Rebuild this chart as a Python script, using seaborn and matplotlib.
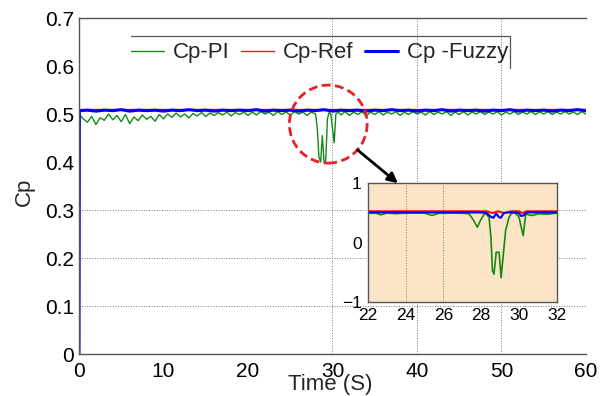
import matplotlib
matplotlib.use("Agg")
import matplotlib.pyplot as plt
from matplotlib.patches import Ellipse
import seaborn as sns

# main plot data
pi_t = [0.0, 0.5, 1.0, 1.5, 2.0, 2.5, 3.0, 3.5, 4.0, 4.5, 5.0, 5.5, 6.0, 6.5, 7.0, 7.5,
        8.0, 8.5, 9.0, 9.5, 10.0, 10.5, 11.0, 11.5, 12.0, 12.5, 13.0, 13.5, 14.0, 14.5,
        15.0, 15.5, 16.0, 16.5, 17.0, 17.5, 18.0, 18.5, 19.0, 19.5, 20.0, 20.5, 21.0,
        21.5, 22.0, 22.5, 23.0, 23.5, 24.0, 24.5, 25.0, 25.5, 26.0, 26.5, 27.0, 27.5,
        28.0, 28.2, 28.4, 28.6, 28.8, 29.0, 29.2, 29.4, 29.6, 29.8, 30.0, 30.2, 30.4,
        30.7, 31.0, 31.5, 32.0, 32.5, 33.0, 33.5, 34.0, 34.5, 35.0, 35.5, 36.0, 36.5,
        37.0, 37.5, 38.0, 38.5, 39.0, 39.5, 40.0, 40.5, 41.0, 41.5, 42.0, 42.5, 43.0,
        43.5, 44.0, 44.5, 45.0, 45.5, 46.0, 46.5, 47.0, 47.5, 48.0, 48.5, 49.0, 49.5,
        50.0, 50.5, 51.0, 51.5, 52.0, 52.5, 53.0, 53.5, 54.0, 54.5, 55.0, 55.5, 56.0,
        56.5, 57.0, 57.5, 58.0, 58.5, 59.0, 59.5, 60.0]
pi_cp = [0.500, 0.490, 0.483, 0.495, 0.478, 0.492, 0.487, 0.500, 0.488, 0.497, 0.484,
         0.499, 0.480, 0.494, 0.486, 0.498, 0.489, 0.495, 0.485, 0.499, 0.490, 0.500,
         0.493, 0.502, 0.494, 0.500, 0.492, 0.501, 0.496, 0.503, 0.495, 0.502, 0.497,
         0.503, 0.498, 0.504, 0.496, 0.503, 0.499, 0.504, 0.497, 0.504, 0.498, 0.505,
         0.500, 0.504, 0.497, 0.505, 0.499, 0.504, 0.498, 0.505, 0.500, 0.504, 0.497,
         0.504, 0.500, 0.470, 0.410, 0.400, 0.455, 0.400, 0.402, 0.490, 0.503, 0.500,
         0.470, 0.440, 0.500, 0.504, 0.498, 0.505, 0.497, 0.504, 0.499, 0.505, 0.496,
         0.504, 0.499, 0.505, 0.498, 0.504, 0.500, 0.505, 0.497, 0.504, 0.499, 0.505,
         0.500, 0.504, 0.498, 0.505, 0.499, 0.504, 0.500, 0.505, 0.497, 0.504, 0.499,
         0.505, 0.498, 0.504, 0.500, 0.505, 0.499, 0.504, 0.500, 0.505, 0.498, 0.504,
         0.500, 0.505, 0.499, 0.504, 0.500, 0.505, 0.499, 0.504, 0.500, 0.505, 0.499,
         0.504, 0.500, 0.505, 0.500, 0.504, 0.499, 0.505, 0.500]

ref_t = [0.0, 60.0]
ref_cp = [0.510, 0.510]

fz_t = [0.0, 0.05, 1, 2, 3, 4, 5, 6, 7, 8, 9, 10, 11, 12, 13, 14, 15, 16, 17, 18, 19,
        20, 21, 22, 23, 24, 25, 26, 27, 28, 29, 30, 31, 32, 33, 34, 35, 36, 37, 38, 39,
        40, 41, 42, 43, 44, 45, 46, 47, 48, 49, 50, 51, 52, 53, 54, 55, 56, 57, 58, 59, 60]
fz_cp = [0.0, 0.507, 0.508, 0.506, 0.508, 0.507, 0.509, 0.506, 0.508, 0.507, 0.508,
         0.506, 0.508, 0.507, 0.509, 0.507, 0.508, 0.506, 0.508, 0.507, 0.508, 0.507,
         0.509, 0.506, 0.508, 0.507, 0.508, 0.506, 0.508, 0.507, 0.509, 0.506, 0.508,
         0.507, 0.508, 0.506, 0.508, 0.507, 0.509, 0.507, 0.508, 0.506, 0.508, 0.507,
         0.509, 0.506, 0.508, 0.507, 0.508, 0.506, 0.508, 0.507, 0.509, 0.506, 0.508,
         0.507, 0.508, 0.506, 0.508, 0.507, 0.509, 0.507]

# zoomed inset data
ins_pi_t = [22.0, 22.4, 22.7, 23.0, 23.5, 24.0, 24.5, 25.0, 25.4, 25.8, 26.3, 26.8,
            27.35, 27.6, 27.8, 27.97, 28.2, 28.42, 28.52, 28.6, 28.68, 28.8, 28.95,
            29.06, 29.16, 29.3, 29.48, 29.62, 29.8, 30.0, 30.16, 30.23, 30.3, 30.37,
            30.5, 30.7, 31.1, 31.5, 32.0]
ins_pi = [0.50, 0.50, 0.47, 0.50, 0.49, 0.50, 0.50, 0.50, 0.46, 0.50, 0.50, 0.50,
          0.49, 0.38, 0.26, 0.38, 0.50, 0.43, 0.09, -0.47, -0.53, -0.16, -0.16,
          -0.59, -0.25, 0.21, 0.43, 0.50, 0.50, 0.44, 0.21, 0.12, 0.32, 0.49,
          0.47, 0.46, 0.49, 0.48, 0.50]
ins_ref_t = [22.0, 28.3, 28.6, 28.9, 29.2, 29.6, 30.0, 30.2, 30.4, 32.0]
ins_ref = [0.53, 0.53, 0.50, 0.53, 0.50, 0.53, 0.53, 0.50, 0.53, 0.53]
ins_fz_t = [22, 23, 24, 25, 26, 27, 27.5, 28.0, 28.3, 28.5, 28.65, 28.8, 28.95, 29.05,
            29.2, 29.4, 29.8, 30.0, 30.12, 30.25, 30.4, 31, 32]
ins_fz = [0.51, 0.51, 0.51, 0.51, 0.51, 0.51, 0.51, 0.51, 0.50, 0.44, 0.42, 0.49, 0.43,
          0.42, 0.50, 0.51, 0.51, 0.50, 0.45, 0.46, 0.51, 0.51, 0.51]

x_ticks = [0, 10, 20, 30, 40, 50, 60]
y_ticks = [0, 0.1, 0.2, 0.3, 0.4, 0.5, 0.6, 0.7]
y_labels = ["0", "0.1", "0.2", "0.3", "0.4", "0.5", "0.6", "0.7"]
ins_x_ticks = [22, 24, 26, 28, 30, 32]
ins_y_ticks = [-1, 0, 1]

VERDE = "#138a13"
AZUL = "#0000ff"
VERMELHO = "#ff1010"

sns.set_theme(style="white")
plt.rcParams["font.family"] = ["Liberation Sans", "DejaVu Sans"]

fig = plt.figure(figsize=(6.09, 3.96), dpi=100)
ax = fig.add_axes([0.1297, 0.106, 0.8325, 0.8485])

sns.lineplot(x=pi_t, y=pi_cp, ax=ax, color=VERDE, lw=1.0, sort=False, label="Cp-PI")
sns.lineplot(x=ref_t, y=ref_cp, ax=ax, color=VERMELHO, lw=1.0, sort=False, label="Cp-Ref")
sns.lineplot(x=fz_t, y=fz_cp, ax=ax, color=AZUL, lw=2.2, sort=False, label="Cp -Fuzzy")

ax.set_xlim(0, 60)
ax.set_ylim(0, 0.7)
ax.set_xticks(x_ticks)
ax.set_yticks(y_ticks)
ax.set_yticklabels(y_labels)
ax.tick_params(axis="both", length=0, labelsize=15, colors="black")
ax.tick_params(axis="x", pad=5.5)
ax.tick_params(axis="y", pad=3.5)

# grid only where it shows in the original
for gx in [30, 40, 50]:
    ax.axvline(gx, color="#777777", lw=0.7, ls=":", zorder=0)
for gy in [0.1, 0.2, 0.3]:
    ax.axhline(gy, color="#777777", lw=0.7, ls=":", zorder=0)

for lado in ["left", "bottom", "top"]:
    ax.spines[lado].set_color("#555555")
    ax.spines[lado].set_linewidth(1.0)
ax.spines["right"].set_visible(False)

ax.set_xlabel("Time (S)", fontsize=16)
ax.xaxis.set_label_coords(0.495, -0.06)
ax.set_ylabel("Cp", fontsize=16)
ax.yaxis.set_label_coords(-0.087, 0.482)

leg = ax.legend(loc="center", bbox_to_anchor=(0.474, 0.896), ncol=3, frameon=False,
                fontsize=16, handlelength=1.5, handletextpad=0.4, columnspacing=0.5)
ax.plot([0.1026, 0.85, 0.85], [0.946, 0.946, 0.851], transform=ax.transAxes,
        color="#555555", lw=0.9, clip_on=False)

circulo = Ellipse((29.5, 0.479), 9.2, 0.1625, fill=False, edgecolor="#e8202a",
                  lw=2.0, ls=(0, (3.2, 1.6)), zorder=5)
ax.add_patch(circulo)
ax.annotate("", xy=(38.0, 0.352), xytext=(32.7, 0.429),
            arrowprops=dict(arrowstyle="-|>", color="black", lw=2.0, mutation_scale=15),
            annotation_clip=False, zorder=6)

# inset
axi = fig.add_axes([0.604, 0.237, 0.310, 0.30])
axi.set_facecolor("#fce5c7")
sns.lineplot(x=ins_pi_t, y=ins_pi, ax=axi, color=VERDE, lw=1.2, sort=False)
sns.lineplot(x=ins_ref_t, y=ins_ref, ax=axi, color=VERMELHO, lw=1.5, sort=False)
sns.lineplot(x=ins_fz_t, y=ins_fz, ax=axi, color=AZUL, lw=1.5, sort=False)
axi.set_xlim(22, 32)
axi.set_ylim(-1, 1)
axi.set_xticks(ins_x_ticks)
axi.set_yticks(ins_y_ticks)
axi.tick_params(axis="both", length=0, labelsize=12.5, colors="black")
axi.tick_params(axis="x", pad=4)
axi.tick_params(axis="y", pad=4.5)
for gx in [24, 26]:
    axi.axvline(gx, color="#777777", lw=0.7, ls=":", zorder=0)
for lado in axi.spines.values():
    lado.set_color("#555555")
    lado.set_linewidth(1.0)
axi.set_xlabel("")
axi.set_ylabel("")

fig.savefig("out.png", dpi=100)
plt.close(fig)
